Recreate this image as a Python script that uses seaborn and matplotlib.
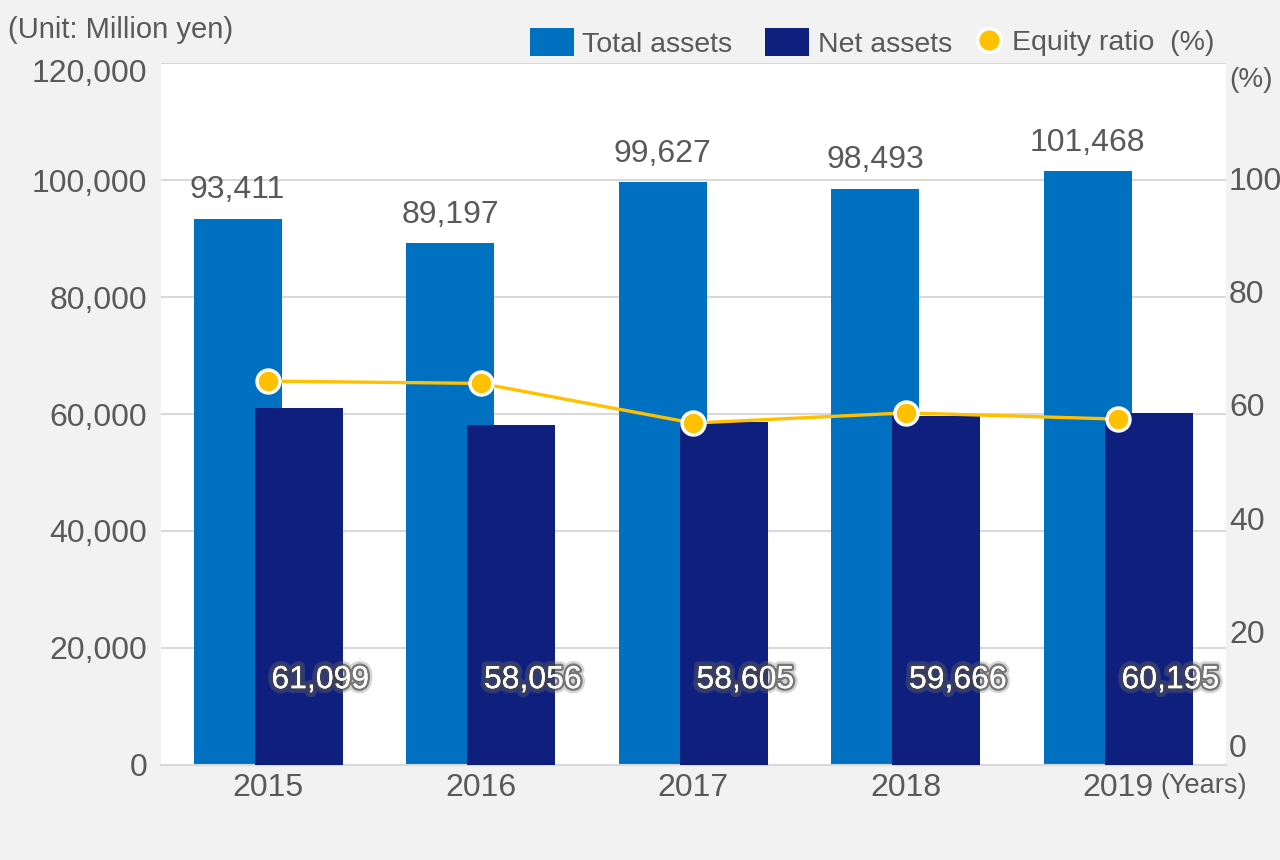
import matplotlib
matplotlib.use("Agg")
import matplotlib.pyplot as plt
import matplotlib.patheffects as pe
import matplotlib.transforms as mtransforms
from matplotlib.lines import Line2D
from matplotlib.patches import Patch
import numpy as np
import pandas as pd
import seaborn as sns

years = ["2015", "2016", "2017", "2018", "2019"]
total_assets = [93411, 89197, 99627, 98493, 101468]
net_assets = [61099, 58056, 58605, 59666, 60195]
equity_ratio = [64.2, 63.8, 56.8, 58.6, 57.5]

sns.set_theme(style="white")
plt.rcParams["font.family"] = ["Liberation Sans", "DejaVu Sans"]

GRAY = "#595959"
C_TOTAL = "#0070c0"
C_NET = "#0f1f7e"
C_LINE = "#ffc000"

fig = plt.figure(figsize=(12.8, 8.6), dpi=100, facecolor="#f2f2f2")
ax = fig.add_axes([0.1258, 0.1105, 0.958 - 0.1258, 0.9267 - 0.1105])
ax.set_facecolor("white")

idx = np.arange(len(years))
off = 0.144
df = pd.DataFrame({"pos_t": idx - off, "pos_n": idx + off,
                   "total": total_assets, "net": net_assets})

sns.barplot(data=df, x="pos_t", y="total", native_scale=True, width=0.414,
            color=C_TOTAL, saturation=1, ax=ax, zorder=2, linewidth=0)
sns.barplot(data=df, x="pos_n", y="net", native_scale=True, width=0.414,
            color=C_NET, saturation=1, ax=ax, zorder=3, linewidth=0)

ax.set_xlim(-0.504, 4.508)
ax.set_ylim(0, 120000)
ax.set_yticks(range(0, 120001, 20000))
ax.set_yticklabels([f"{v:,}" for v in range(0, 120001, 20000)])
ax.set_xticks(idx)
ax.set_xticklabels(years)
ax.set_xlabel("")
ax.set_ylabel("")
ax.grid(axis="y", color="#d9d9d9", linewidth=1.5, zorder=0)
ax.set_axisbelow(True)
for s in ["top", "right", "left"]:
    ax.spines[s].set_visible(False)
ax.spines["bottom"].set_color("#d9d9d9")
ax.spines["bottom"].set_linewidth(1.5)
ax.tick_params(axis="y", length=0, pad=10, labelsize=23, labelcolor=GRAY)
ax.tick_params(axis="x", length=0, pad=6, labelsize=23, labelcolor=GRAY)
top_lbl = ax.get_yticklabels()[-1]
top_lbl.set_transform(top_lbl.get_transform() +
                      mtransforms.ScaledTranslation(0, -0.07, fig.dpi_scale_trans))

for i, v in enumerate(total_assets):
    ax.text(i - off, v + 2300, f"{v:,}", ha="center", va="bottom",
            fontsize=23, color=GRAY, zorder=5)
glow = [pe.withStroke(linewidth=7, foreground="#777777", alpha=0.3),
        pe.withStroke(linewidth=3.5, foreground="#444444", alpha=0.65),
        pe.Normal()]
for i, v in enumerate(net_assets):
    ax.text(i + 0.245, 14500, f"{v:,}", ha="center", va="center",
            fontsize=23, color="white", zorder=6, path_effects=glow)

ax2 = ax.twinx()
ax2.set_ylim(-3.5, 120.3)
sns.lineplot(x=idx, y=equity_ratio, ax=ax2, color=C_LINE, linewidth=2.4,
             marker="o", markersize=16.5, markerfacecolor=C_LINE,
             markeredgecolor="white", markeredgewidth=2.5, zorder=10)
ax2.set_yticks(range(0, 101, 20))
ax2.tick_params(axis="y", length=0, pad=2, labelsize=23, labelcolor=GRAY)
for s in ax2.spines.values():
    s.set_visible(False)
ax2.set_ylabel("")

fig.text(8 / 1280, 1 - 30 / 860, "(Unit: Million yen)", fontsize=21,
         color=GRAY, ha="left", va="center")
fig.text(1251 / 1280, 1 - 80 / 860, "(%)", fontsize=20, color=GRAY,
         ha="center", va="center")
fig.text(1160 / 1280, 1 - 786 / 860, "(Years)", fontsize=19.5, color=GRAY,
         ha="left", va="center")

bar_handles = [Patch(facecolor=C_TOTAL, edgecolor="none"),
               Patch(facecolor=C_NET, edgecolor="none")]
leg1 = fig.legend(bar_handles, ["Total assets", "Net assets"],
                  loc="center right", bbox_to_anchor=(952 / 1280, 1 - 43 / 860),
                  ncol=2, frameon=False, fontsize=20.5, labelcolor=GRAY,
                  handlelength=1.55, handleheight=1.1, handletextpad=0.3,
                  columnspacing=1.15, borderaxespad=0, borderpad=0)
line_handle = [Line2D([], [], color=C_LINE, marker="o", linestyle="none",
                      markersize=17, markerfacecolor=C_LINE,
                      markeredgecolor="white", markeredgewidth=2.5)]
leg2 = fig.legend(line_handle, ["Equity ratio  (%)"],
                  loc="center right", bbox_to_anchor=(1214 / 1280, 1 - 43 / 860),
                  ncol=1, frameon=False, fontsize=20.5, labelcolor=GRAY,
                  handlelength=1.0, handletextpad=0.3, borderaxespad=0,
                  borderpad=0)

fig.savefig("out.png", dpi=100, facecolor=fig.get_facecolor())
